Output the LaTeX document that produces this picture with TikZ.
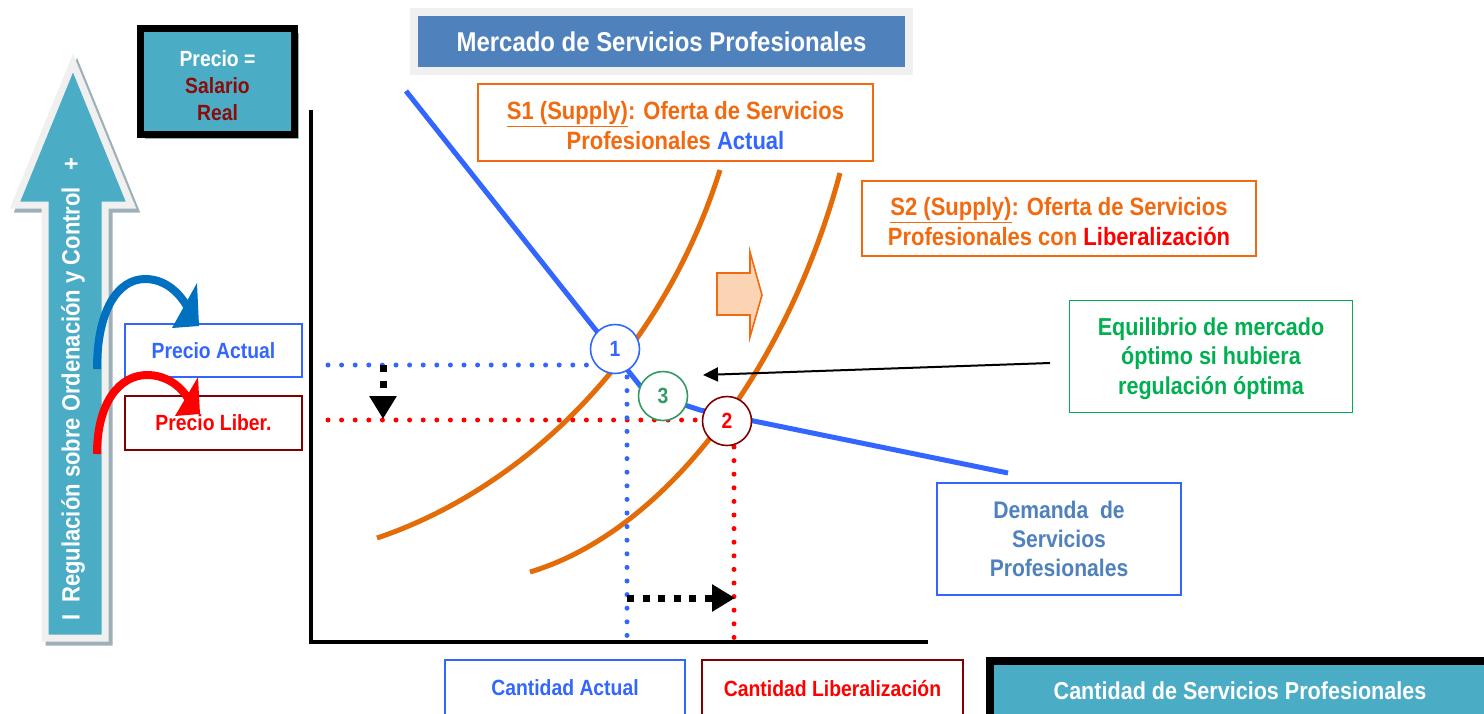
\documentclass[tikz,border=0pt]{standalone}
\usepackage{fontspec}
\setmainfont{Liberation Sans}[FakeStretch=0.88]
\usetikzlibrary{shadows,arrows.meta,calc}
\definecolor{cteal}{HTML}{4BACC6}
\definecolor{ctitle}{HTML}{4F81BD}
\definecolor{cdred}{HTML}{8C0A0A}
\definecolor{corange}{HTML}{F26A10}
\definecolor{ccurve}{HTML}{E36C09}
\definecolor{cblue}{HTML}{3366FF}
\definecolor{cdem}{HTML}{4F81BD}
\definecolor{cgreen}{HTML}{00B050}
\definecolor{cgreenc}{HTML}{339966}
\definecolor{cbord}{HTML}{7F0000}
\definecolor{cred}{HTML}{FF0000}
\definecolor{cbarrow}{HTML}{0070C0}
\definecolor{cfill}{HTML}{FBD4B4}
\definecolor{cgrayb}{HTML}{F0F0F0}
\definecolor{cshadow}{HTML}{9DB0B8}
\tikzset{
  fnt/.style={font=\bfseries\fontsize{#1}{\fpeval{1.2*#1}}\selectfont},
  lbox/.style={draw=#1, line width=1.8pt, fill=white, inner sep=0pt, align=center},
  supply/.style={draw=ccurve, line width=5pt},
  demand/.style={draw=cblue, line width=5pt},
  dotline/.style={line width=5pt, dash pattern=on 0pt off 13.6pt, line cap=round},
  blackdots/.style={line width=7pt, dash pattern=on 7pt off 8.5pt, -{Triangle[length=23pt,width=26pt]}},
  numcircle/.style={circle, draw=#1, line width=1.6pt, fill=white, minimum size=49pt, inner sep=0pt, fnt=22},
  pshadow/.style={drop shadow={opacity=1, fill=cshadow, shadow xshift=4pt, shadow yshift=-4pt}}
}
\begin{document}
\begin{tikzpicture}[x=1pt,y=-1pt]
\useasboundingbox (0,0) rectangle (1484,713);

% ---- vertical regulation arrow ----
\def\varrow{(73,63) -- (131,205) -- (105,205) -- (105,638) -- (45,638) -- (45,205) -- (15,205) -- cycle}
\fill[cshadow, xshift=4pt, yshift=-4pt, line width=7pt, draw=cshadow] \varrow;
\filldraw[fill=cteal, draw=cgrayb, line width=7pt, line join=miter] \varrow;
\node[fnt=25, text=white, rotate=90] (vtext) at (73,389)
  {I\hspace{12pt}Regulación sobre Ordenación y Control\hspace{17pt}+};

% ---- Precio = Salario Real ----
\node[draw=black, line width=7pt, fill=cteal, minimum width=154pt, minimum height=106pt, pshadow] (pbox) at (217.5,81.5) {};
\node[fnt=22, align=center, text=white, inner sep=0pt] (ptext) at ([yshift=-4pt]pbox.center)
  {Precio =\\[0.5pt]\textcolor{cdred}{Salario}\\[0.5pt]\textcolor{cdred}{Real}};

% ---- title ----
\node[draw=cgrayb, line width=8pt, fill=ctitle, minimum width=495pt, minimum height=59pt,
      drop shadow={opacity=1, fill=gray!70, shadow xshift=3pt, shadow yshift=-3pt},
      fnt=27.2, text=white] (title) at (661.5,41.5) {Mercado de Servicios Profesionales};

% ---- axes ----
\coordinate (ytop) at (311,110);
\coordinate (orig) at (311,642);
\coordinate (xend) at (928,642);
\draw[line width=4pt] (ytop) -- (orig) -- (xend);

% ---- supply curves ----
\coordinate (s1a) at (377,538); \coordinate (s1b) at (720,170);
\coordinate (s2a) at (530,572); \coordinate (s2b) at (840,173);
\draw[supply] (s1a) .. controls (520,490) and (660,360) .. (s1b);
\draw[supply] (s2a) .. controls (670,530) and (790,360) .. (s2b);

% ---- demand curve ----
\coordinate (d0) at (406,91); \coordinate (dk1) at (645,392);
\coordinate (dk2) at (700,410); \coordinate (d1) at (1008,473);
\draw[demand] (d0) -- (dk1) -- (dk2) -- (d1);

% ---- dotted guide lines ----
\coordinate (pa0) at (328,365); \coordinate (pa1) at (592,365);
\coordinate (pl0) at (328,420); \coordinate (pl1) at (698,420);
\coordinate (qa0) at (627,377); \coordinate (qa1) at (627,641);
\coordinate (ql0) at (734,447); \coordinate (ql1) at (734,641);
\draw[dotline, cblue] (pa0) -- (pa1);
\draw[dotline, cred] (pl0) -- (pl1);
\draw[dotline, cblue] (qa0) -- (qa1);
\draw[dotline, cred] (ql0) -- (ql1);

% ---- black dotted arrows ----
\coordinate (va0) at (383,365); \coordinate (va1) at (383,419);
\coordinate (ha0) at (627,598); \coordinate (ha1) at (735,598);
\draw[blackdots] (va0) -- (va1);
\draw[blackdots] (ha0) -- (ha1);

% ---- block arrow ----
\filldraw[fill=cfill, draw=corange, line width=1.6pt]
  (717,273) -- (750,273) -- (750,252) -- (762,295) -- (750,337) -- (750,315) -- (717,315) -- cycle;

% ---- circles ----
\node[numcircle=cblue, text=cblue] (c1) at (615,349) {1};
\node[numcircle=cgreenc, text=cgreenc] (c3) at (663,396) {3};
\node[numcircle=cbord, text=cred] (c2) at (727,421) {2};

% ---- label boxes ----
\node[lbox=corange, minimum width=395pt, minimum height=77pt, fnt=25, text=corange] (s1box) at (675.5,122.5)
  {\rule{0pt}{25pt}\underline{S1 (Supply)}: Oferta de Servicios\\Profesionales \textcolor{cblue}{Actual}};
\node[lbox=corange, minimum width=394pt, minimum height=75pt, fnt=25, text=corange] (s2box) at (1059,218.5)
  {\rule{0pt}{25pt}\underline{S2 (Supply)}: Oferta de Servicios\\Profesionales con \textcolor{cred}{Liberalización}};
\node[lbox=cgreen, minimum width=283pt, minimum height=112pt, fnt=24.5, text=cgreen] (eqbox) at (1211,356.5)
  {\rule{0pt}{22pt}Equilibrio de mercado\\óptimo si hubiera\\regulación óptima};
\node[lbox=cblue, minimum width=244pt, minimum height=112pt, fnt=24, text=cdem] (dembox) at (1059,539)
  {Demanda\ \ de\\Servicios\\Profesionales};
\node[lbox=cblue, minimum width=177pt, minimum height=53pt, fnt=22, text=cblue] (pact) at (213.5,350.5) {Precio Actual};
\node[lbox=cbord, minimum width=177pt, minimum height=54pt, fnt=22, text=cred] (plib) at (213.5,423) {Precio Liber.};
\node[lbox=cblue, minimum width=240pt, minimum height=56pt, fnt=22, text=cblue, text depth=0pt] (qact) at (565,688) {Cantidad Actual};
\node[lbox=cbord, minimum width=261pt, minimum height=56pt, fnt=22, text=cred, text depth=0pt] (qlib) at (832.5,688) {Cantidad Liberalización};
\node[draw=black, line width=8pt, fill=cteal, minimum width=500pt, minimum height=60pt, fnt=24.5, text=white] (qaxis) at (1240,691)
  {Cantidad de Servicios Profesionales};

% ---- arrow to equilibrium 3 ----
\coordinate (eqa) at (1050,363);
\coordinate (eqt) at (703,375);
\draw[line width=2pt, -{Triangle[length=15pt,width=14pt]}] (eqa) -- (eqt);

% ---- curved arrows ----
\draw[cbarrow, line width=8pt] (97,369) .. controls (97,310) and (118,279) .. (145,279) .. controls (163,279) and (178,290) .. (188,308);
\fill[cbarrow] (197,283) -- (199,326) -- (172,328) -- cycle;
\draw[cred, line width=8pt] (97,454) .. controls (97,402) and (120,375) .. (147,375) .. controls (166,375) and (181,386) .. (189,400);
\fill[cred] (198,377) -- (200,414) -- (175,416) -- cycle;
\end{tikzpicture}
\end{document}
